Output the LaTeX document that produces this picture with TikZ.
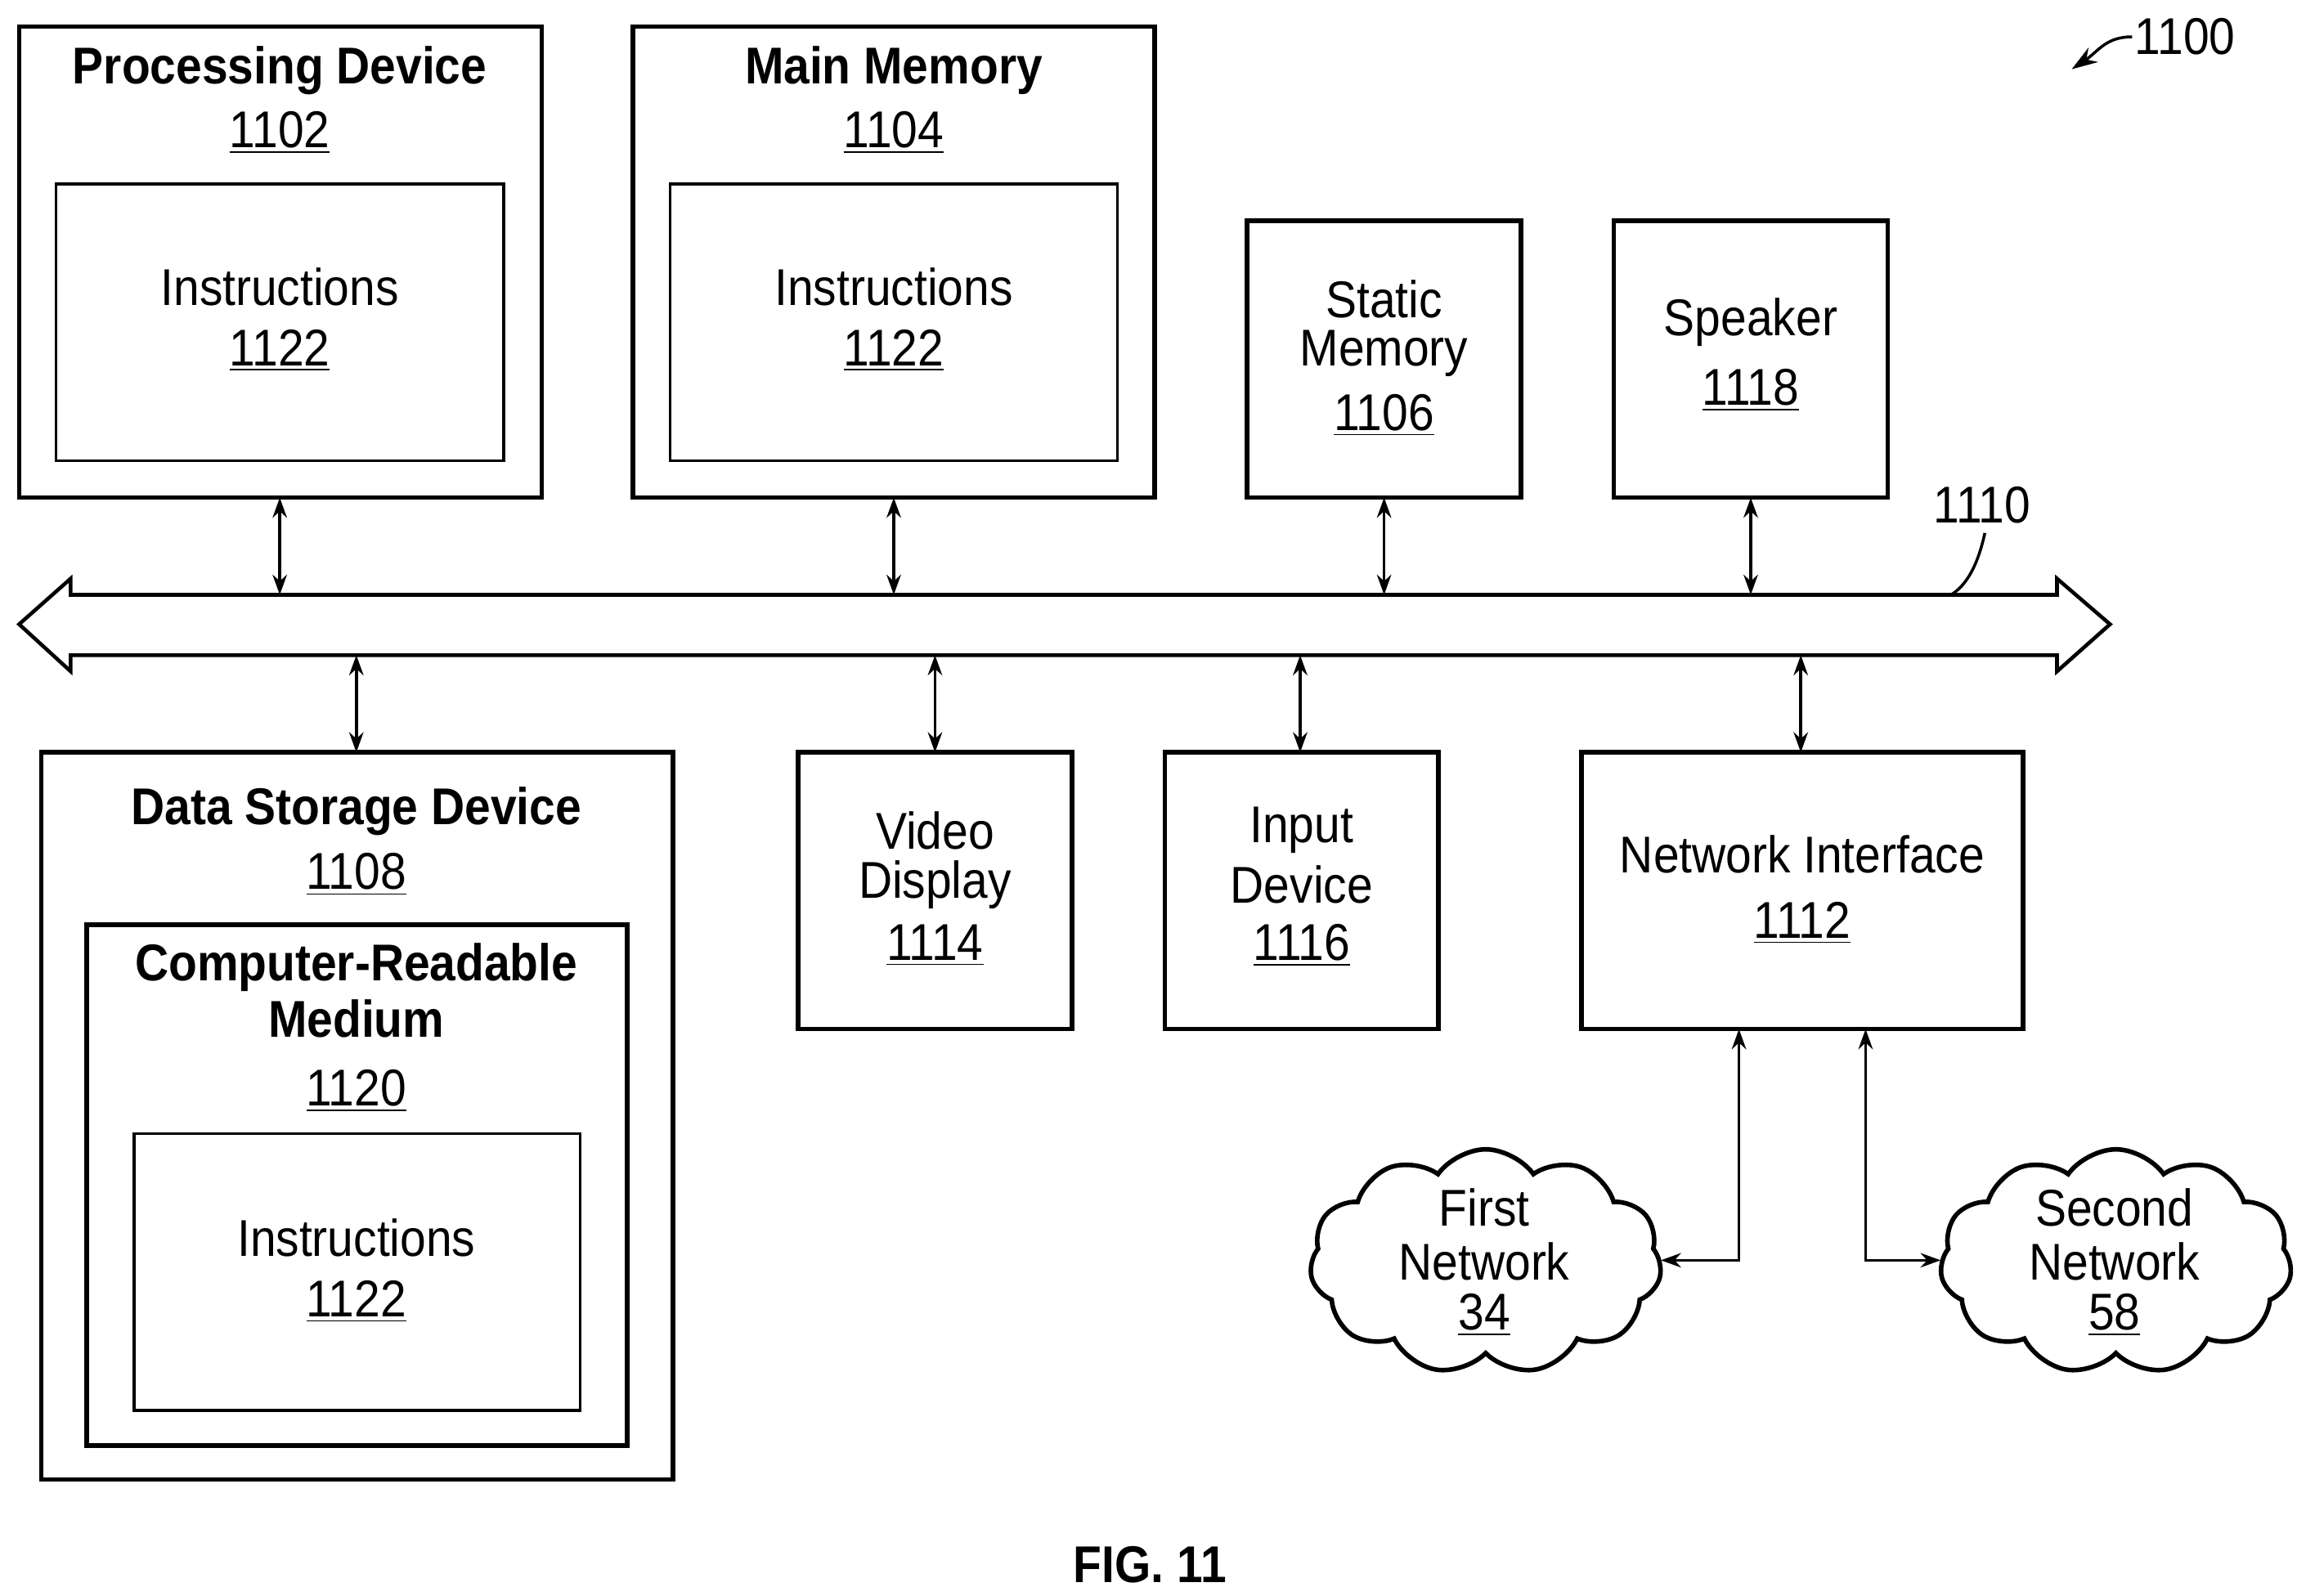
\documentclass[tikz,border=0pt]{standalone}
\usepackage{fontspec}
\setmainfont{Liberation Sans}[FakeStretch=0.9]
\usetikzlibrary{arrows.meta,shapes.symbols}
\begin{document}
\begin{tikzpicture}[x=0.018cm,y=-0.018cm,
  box/.style={draw,line width=1.6pt},
  ibox/.style={draw,line width=1pt},
  t/.style={font=\fontsize{18}{20}\selectfont,align=center,inner sep=0},
  tb/.style={font=\fontsize{18}{20}\selectfont\bfseries,align=center,inner sep=0},
  arr/.style={line width=1pt,{Stealth[length=7pt,width=5pt]}-{Stealth[length=7pt,width=5pt]}},
  cl/.style={cloud,cloud puffs=11,cloud puff arc=110,aspect=1.55,draw,line width=1.6pt,minimum width=4.3cm,minimum height=2.75cm}]
\useasboundingbox (0,0) rectangle (1560,1084);
% top boxes
\draw[box] (13,18) rectangle (368,338);
\draw[ibox] (38,125) rectangle (342,313);
\node[tb] (pd) at (190,48) {Processing Device};
\node[t] at (190,90) {\underline{1102}};
\node[t] at (190,195) {Instructions};
\node[t] at (190,238) {\underline{1122}};
\draw[box] (430,18) rectangle (784,338);
\draw[ibox] (455,125) rectangle (759,313);
\node[tb] at (607,48) {Main Memory};
\node[t] at (607,90) {\underline{1104}};
\node[t] at (607,195) {Instructions};
\node[t] at (607,238) {\underline{1122}};
\draw[box] (847,150) rectangle (1033,338);
\node[t] at (940,203) {Static};
\node[t] at (940,240) {Memory};
\node[t] at (940,282) {\underline{1106}};
\draw[box] (1096,150) rectangle (1282,338);
\node[t] at (1189,219) {Speaker};
\node[t] at (1189,265) {\underline{1118}};
% bus
\draw[line width=1.3pt] (48,404) -- (1397,404) -- (1397,393) -- (1433,424) -- (1397,456) -- (1397,445) -- (48,445) -- (48,456) -- (13,424) -- (48,393) -- cycle;
\node[t] (l1110) at (1346,343) {1110};
\draw[line width=1pt] (1348,362) .. controls (1343,385) and (1335,398) .. (1325,404);
\node[t] (l1100) at (1484,25) {1100};
\draw[line width=1pt,-{Stealth[length=9pt,width=6pt]}] (1448,25) .. controls (1430,25) and (1425,35) .. (1407,47);
\foreach \x in {190,607,940,1189} \draw[arr] (\x,338) -- (\x,404);
\foreach \x in {242,635,883,1223} \draw[arr] (\x,445) -- (\x,511);
% bottom boxes
\draw[box] (28,511) rectangle (457,1005);
\node[tb] at (242,551) {Data Storage Device};
\node[t] at (242,594) {\underline{1108}};
\draw[box] (59,628) rectangle (426,982);
\node[tb] at (242,657) {Computer-Readable};
\node[tb] at (242,692) {Medium};
\node[t] at (242,741) {\underline{1120}};
\draw[ibox] (91,770) rectangle (394,958);
\node[t] at (242,841) {Instructions};
\node[t] at (242,884) {\underline{1122}};
\draw[box] (542,511) rectangle (728,699);
\node[t] at (635,564) {Video};
\node[t] at (635,601) {Display};
\node[t] at (635,642) {\underline{1114}};
\draw[box] (791,511) rectangle (977,699);
\node[t] at (884,564) {Input};
\node[t] at (884,601) {Device};
\node[t] at (884,642) {\underline{1116}};
\draw[box] (1074,511) rectangle (1374,699);
\node[t] at (1224,580) {Network Interface};
\node[t] at (1224,627) {\underline{1112}};
% clouds
\node[cl] (c1) at (1009,857) {};
\node[t] at (1008,820) {First};
\node[t] at (1008,857) {Network};
\node[t] at (1008,893) {\underline{34}};
\node[cl] (c2) at (1437,857) {};
\node[t] at (1436,820) {Second};
\node[t] at (1436,857) {Network};
\node[t] at (1436,893) {\underline{58}};
\draw[arr] (1181,699) -- (1181,856) -- (1128,856);
\draw[arr] (1267,699) -- (1267,856) -- (1318,856);
\node[tb] at (781,1063) {FIG. 11};
\end{tikzpicture}
\end{document}
